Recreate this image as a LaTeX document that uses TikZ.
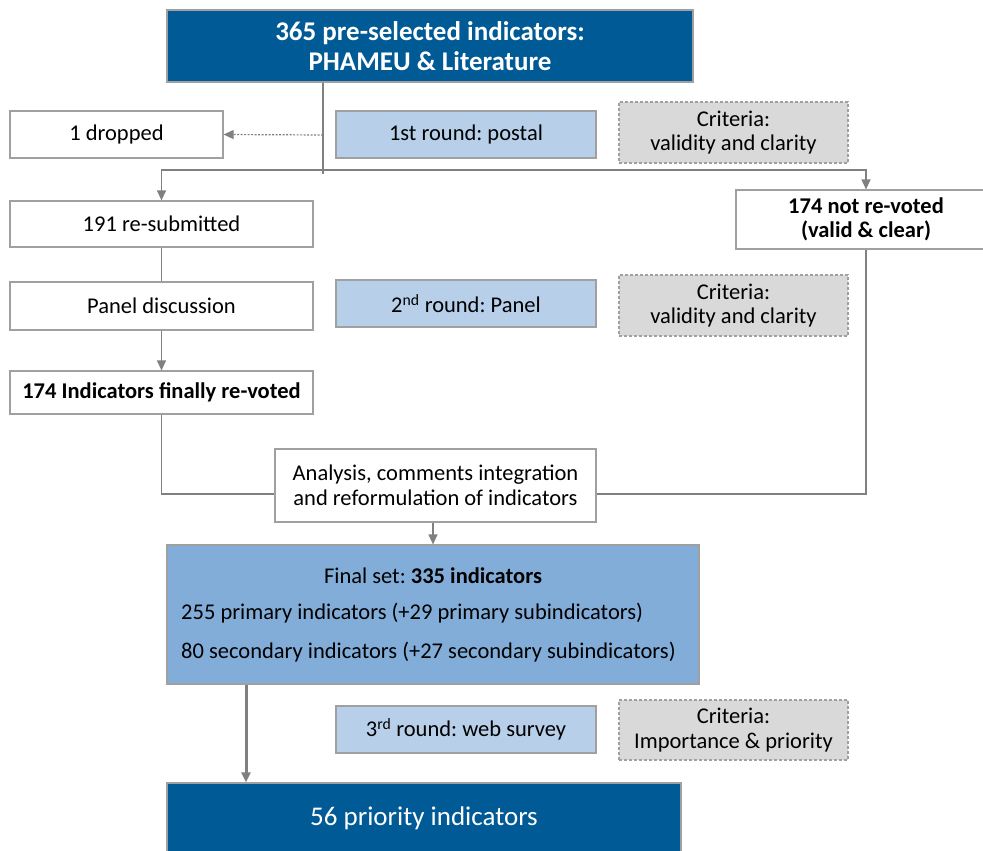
\documentclass[tikz,border=0pt]{standalone}
\usepackage{fontspec}
\setmainfont{Carlito}
\usetikzlibrary{arrows.meta}

\definecolor{darkblue}{RGB}{0,90,150}
\definecolor{midblue}{RGB}{130,173,217}
\definecolor{paleblue}{RGB}{184,207,234}
\definecolor{critgray}{RGB}{217,217,217}
\definecolor{linegray}{RGB}{128,128,128}
\definecolor{edgegray}{RGB}{160,160,160}

\tikzset{
  body/.style={font=\fontsize{22.5}{24.5}\selectfont\frenchspacing},
  box/.style={draw=edgegray, line width=1.2pt, fill=white, inner sep=0pt, align=center, body},
  darkbox/.style={box, fill=darkblue, text=white},
  roundbox/.style={box, fill=paleblue},
  critbox/.style={box, fill=critgray, dashed, dash pattern=on 3pt off 2pt},
  link/.style={draw=linegray, line width=1.2pt},
  arr/.style={link, -{Triangle[length=10pt,width=9pt]}},
}

\begin{document}
\begin{tikzpicture}[x=1pt,y=-1pt]
  \useasboundingbox (0,0) rectangle (983,851);
  \clip (0,0) rectangle (983,851);

  % boxes
  \node[darkbox, minimum width=526pt, minimum height=72pt, font=\fontsize{27}{29.5}\selectfont\bfseries] (top) at (430,46) {365 pre-selected indicators:\\PHAMEU \& Literature};
  \node[box, minimum width=213pt, minimum height=47pt] (dropped) at (116.5,134.5) {1 dropped};
  \node[roundbox, minimum width=260pt, minimum height=47pt] (round1) at (466,134.5) {1st round: postal};
  \node[critbox, minimum width=229pt, minimum height=61pt] (crit1) at (733.5,132.5) {Criteria:\\validity and clarity};
  \node[box, minimum width=303pt, minimum height=46pt] (resub) at (161.5,224) {191 re-submitted};
  \node[box, minimum width=260pt, minimum height=59pt, font=\fontsize{22.5}{24.5}\selectfont\bfseries] (notrev) at (866,219.5) {174 not re-voted\\(valid \& clear)};
  \node[box, minimum width=303pt, minimum height=48pt] (panel) at (161.5,306) {Panel discussion};
  \node[roundbox, minimum width=260pt, minimum height=47pt] (round2) at (466,303.5) {2\textsuperscript{nd} round: Panel};
  \node[critbox, minimum width=229pt, minimum height=61pt] (crit2) at (733.5,305.5) {Criteria:\\validity and clarity};
  \node[box, minimum width=303pt, minimum height=43pt, font=\fontsize{22.5}{24.5}\selectfont\bfseries] (revoted) at (161.5,392.5) {174 Indicators finally re-voted};
  \node[box, minimum width=321pt, minimum height=73pt] (analysis) at (435.5,485.5) {Analysis, comments integration\\and reformulation of indicators};
  \node[box, fill=midblue, minimum width=532pt, minimum height=139pt] (final) at (433,614.5) {};
  \node[body] (finalhead) at (433,576) {Final set: \textbf{335 indicators}};
  \node[body, anchor=west, inner sep=0pt] (primary) at (181,613) {255 primary indicators (+29 primary subindicators)};
  \node[body, anchor=west, inner sep=0pt] (secondary) at (181,652) {80 secondary indicators (+27 secondary subindicators)};
  \node[roundbox, minimum width=260pt, minimum height=47pt] (round3) at (466,729.5) {3\textsuperscript{rd} round: web survey};
  \node[critbox, minimum width=229pt, minimum height=60pt] (crit3) at (733.5,730) {Criteria:\\Importance \& priority};
  \node[darkbox, minimum width=514pt, minimum height=100pt] (priority) at (424,833) {};
  \node[text=white, font=\fontsize{27}{29.5}\selectfont] (prioritytext) at (424,818) {56 priority indicators};

  % connectors
  \coordinate (fork) at (323,170);
  \coordinate (drop) at (323,135);
  \draw[link] (top.south -| fork) -- ++(0,91);
  \draw[arr, dashed, dash pattern=on 2pt off 1.5pt] (drop) -- (dropped.east);
  \draw[arr] (fork) -| (resub.north);
  \draw[arr] (fork) -| (notrev.north);
  \draw[link] (resub) -- (panel);
  \draw[arr] (panel) -- (revoted);
  \draw[link] (revoted.south) |- ([yshift=-8.5pt]analysis.west);
  \draw[link] (notrev.south) |- ([yshift=-8.5pt]analysis.east);
  \draw[arr] (analysis.south -| 433,0) -- (final.north -| 433,0);
  \draw[arr, line width=3pt] (final.south -| 246,0) -- (priority.north -| 246,0);
\end{tikzpicture}
\end{document}
